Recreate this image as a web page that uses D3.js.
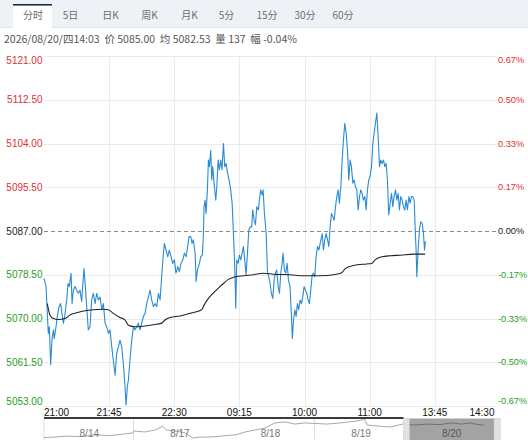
<!DOCTYPE html>
<html><head><meta charset="utf-8">
<script src="https://cdn.jsdelivr.net/npm/d3@7/dist/d3.min.js"></script>
<style>
html,body{margin:0;padding:0;background:#fff;}
svg{display:block;}
</style></head>
<body>
<svg id="c" width="528" height="440"></svg>
<script>
// ---- data ----
const tabs = ["分时","5日","日K","周K","月K","5分","15分","30分","60分"];
const infoText = "2026/08/20/四14:03  价 5085.00  均 5082.53  量 137  幅 -0.04%";
const priceTicks = [5121, 5112.5, 5104, 5095.5, 5087, 5078.5, 5070, 5061.5, 5053];
const pctTicks = ["0.67%","0.50%","0.33%","0.17%","0.00%","-0.17%","-0.33%","-0.50%","-0.67%"];
const prevClose = 5087;
const timeTicks = [0,45,90,135,180,225,270,315]; // session minutes
const timeLabels = ["21:00","21:45","22:30","09:15","10:00","11:00","13:45","14:30"];
// [session minute, price]
const pricePts = [
[0,5077.8],[1.4,5076.2],[2.3,5071.0],[3.0,5067.1],[3.7,5068.4],[4.6,5061.0],[5.5,5065.8],[6.5,5067.8],[7.1,5066.1],[8.3,5068.4],
[9.2,5070.4],[10.4,5072.3],[11.5,5072.9],[12.4,5071.0],[13.4,5069.1],[14.3,5070.4],[15.7,5073.6],[16.6,5076.8],[17.5,5076.2],[18.7,5078.8],
[19.4,5072.9],[20.3,5075.5],[21.4,5076.2],[22.6,5075.5],[23.7,5074.9],[24.9,5075.5],[26.0,5073.3],[26.7,5076.2],[27.6,5079.7],[28.6,5076.2],
[29.5,5072.3],[30.6,5067.8],[31.8,5068.4],[32.9,5073.6],[34.1,5074.9],[35.3,5072.9],[36.4,5074.9],[37.6,5073.6],[38.7,5074.2],[39.9,5071.7],
[41.0,5072.9],[42.2,5069.1],[43.3,5068.4],[44.5,5067.1],[45.6,5067.8],[46.8,5064.5],[47.9,5061.9],[49.1,5059.0],[50.2,5063.2],[51.4,5064.5],
[52.5,5065.8],[53.7,5064.5],[54.8,5061.3],[56.0,5056.8],[56.7,5053.2],[57.6,5056.8],[58.3,5058.0],[59.4,5061.9],[60.6,5065.8],[61.8,5068.4],
[62.9,5067.8],[64.1,5068.4],[65.2,5069.1],[66.4,5067.8],[67.5,5069.1],[68.7,5070.4],[69.8,5071.0],[71.0,5072.9],[72.1,5074.2],[73.3,5075.5],
[74.4,5073.6],[75.6,5072.3],[76.7,5072.9],[77.9,5072.3],[79.0,5074.9],[80.2,5073.6],[81.3,5078.1],[82.5,5082.7],[83.2,5084.6],[84.3,5083.3],
[85.5,5082.0],[86.6,5083.3],[87.8,5082.0],[88.9,5080.7],[90.1,5081.4],[91.2,5078.8],[92.4,5080.1],[93.5,5079.1],[94.7,5080.7],[95.9,5081.4],
[97.0,5082.7],[98.2,5082.0],[99.3,5084.0],[100.2,5085.9],[101.4,5085.9],[102.3,5084.6],[103.2,5085.3],[104.4,5082.7],[105.1,5077.2],[106.0,5079.4],
[107.4,5080.7],[108.3,5082.0],[109.4,5082.3],[110.1,5085.9],[110.6,5091.7],[111.3,5093.0],[112.0,5090.4],[112.9,5095.0],[113.6,5100.8],[114.3,5099.5],
[115.2,5102.7],[115.9,5096.9],[116.6,5099.5],[117.5,5096.3],[118.7,5093.0],[119.4,5095.6],[120.3,5100.8],[121.2,5098.9],[122.1,5100.8],[123.0,5098.9],
[124.0,5104.0],[124.9,5099.5],[125.8,5100.1],[126.7,5098.5],[127.9,5096.9],[129.0,5095.0],[130.0,5092.4],[130.9,5086.5],[131.8,5080.1],[132.5,5072.0],
[133.2,5081.4],[134.1,5080.7],[135.0,5082.3],[135.9,5081.4],[136.9,5082.7],[137.8,5084.0],[138.7,5081.4],[139.6,5078.5],[140.6,5082.7],[141.5,5087.2],
[142.4,5087.8],[143.5,5087.8],[144.2,5091.1],[145.2,5089.1],[146.1,5088.2],[147.0,5091.7],[148.2,5091.1],[148.8,5093.0],[149.7,5095.0],[150.7,5094.0],
[151.4,5095.0],[152.3,5090.4],[153.5,5086.5],[154.4,5079.1],[155.3,5078.1],[156.2,5076.8],[157.1,5074.9],[158.1,5073.9],[159.0,5077.5],[159.9,5078.8],
[160.8,5079.4],[161.8,5076.2],[162.7,5074.9],[163.6,5078.8],[164.5,5080.7],[165.2,5082.7],[166.1,5079.4],[167.0,5078.8],[168.0,5080.7],[168.9,5077.5],
[170.0,5076.2],[170.9,5071.0],[171.6,5066.1],[172.4,5069.7],[173.3,5071.7],[174.2,5070.4],[175.1,5072.9],[176.0,5071.7],[176.9,5073.6],[177.9,5072.9],
[178.8,5074.2],[179.7,5076.2],[180.6,5075.5],[181.6,5074.9],[182.5,5073.6],[183.4,5072.9],[184.3,5075.5],[185.3,5078.5],[186.2,5078.8],[187.1,5078.1],
[188.0,5082.0],[189.0,5084.0],[189.9,5083.3],[190.8,5084.6],[192.2,5086.5],[193.1,5083.3],[194.0,5085.3],[194.9,5086.5],[195.9,5085.3],[196.8,5084.0],
[197.7,5087.8],[198.6,5090.4],[199.5,5089.8],[200.5,5089.1],[201.4,5091.7],[202.3,5093.7],[203.2,5095.0],[204.1,5092.4],[205.1,5095.6],[206.0,5100.8],
[206.9,5104.7],[207.8,5107.9],[208.8,5106.0],[209.7,5102.7],[210.6,5096.9],[211.5,5100.8],[212.4,5099.5],[213.4,5096.3],[214.3,5096.9],[215.2,5095.6],
[216.1,5095.0],[217.1,5091.1],[218.0,5093.7],[218.9,5095.0],[219.8,5094.3],[220.7,5093.0],[221.7,5093.7],[222.6,5091.1],[223.5,5095.0],[224.4,5096.9],
[225.3,5097.6],[226.3,5099.5],[227.2,5104.0],[228.1,5106.0],[229.0,5107.9],[230.0,5109.9],[230.9,5105.3],[231.8,5099.5],[232.7,5100.8],[233.6,5100.1],
[234.6,5100.8],[235.5,5099.5],[236.4,5100.1],[237.3,5096.9],[238.2,5090.1],[239.2,5092.4],[240.1,5094.3],[241.0,5091.7],[241.9,5093.7],[242.9,5095.0],
[243.8,5093.0],[244.7,5094.3],[245.6,5091.1],[246.5,5093.7],[247.5,5093.0],[248.4,5091.7],[249.3,5091.1],[250.2,5093.0],[251.1,5091.1],[252.1,5093.7],
[253.0,5092.4],[253.9,5093.7],[254.8,5093.7],[255.8,5093.0],[256.4,5087.8],[257.1,5083.3],[257.6,5078.1],[258.5,5083.3],[259.4,5087.2],[260.3,5088.8],
[261.3,5088.5],[262.2,5086.5],[262.9,5083.3],[263.6,5085.0]
];
// [session minute, average price]
const avgPts = [
[2.3,5072.9],[4.1,5070.7],[6.5,5070.0],[9.9,5069.8],[14.5,5070.0],[18.0,5070.7],[22.6,5071.1],[28.3,5071.5],[34.1,5071.7],[41.0,5071.8],
[44.5,5071.7],[47.9,5071.0],[52.5,5070.2],[56.0,5069.7],[58.3,5068.7],[62.9,5068.4],[68.7,5068.5],[75.6,5068.8],[81.3,5069.1],[83.6,5069.7],
[87.1,5070.2],[94.0,5070.5],[100.9,5071.0],[109.0,5071.7],[110.6,5072.6],[113.6,5073.9],[117.1,5075.0],[120.5,5075.9],[124.0,5076.8],[127.4,5077.6],
[130.9,5078.0],[137.8,5078.3],[144.7,5078.5],[151.6,5078.8],[158.5,5078.6],[170.0,5078.5],[179.3,5078.3],[190.8,5078.3],[200.0,5078.5],[205.8,5078.9],
[208.1,5079.7],[213.8,5080.3],[223.0,5080.6],[226.5,5080.7],[228.8,5081.4],[233.4,5082.0],[239.2,5082.2],[246.2,5082.3],[255.4,5082.5],[263.4,5082.5]
];
// navigator: [day index (0..5), price]
const navDays = ["8/14","8/17","8/18","8/19","8/20"];
const navPts = [
[0,5001],[0.12,5004],[0.25,5010],[0.40,5007],[0.56,5017],[0.73,5013],[0.89,5023],[0.98,5029],[0.99,5041],[1.11,5035],
[1.23,5047],[1.31,5071],[1.35,5047],[1.45,5041],[1.56,5029],[1.64,4998],[1.72,5004],[1.83,5004],[1.96,5010],[2.11,5017],
[2.22,5035],[2.33,5047],[2.44,5059],[2.55,5090],[2.66,5096],[2.77,5083],[2.88,5090],[2.99,5087],[3.12,5083],[3.27,5090],
[3.41,5099],[3.54,5111],[3.57,5077],[3.69,5071],[3.82,5065],[3.96,5083],[4.09,5077],[4.24,5083],[4.37,5080],[4.50,5090],
[4.61,5083],[4.70,5090],[4.79,5080],[4.86,5077]
];
const navSelection = [4, 5];

// ---- drawing ----
const svg = d3.select("#c");
const W = 528;
const L = 44, R = 497, T = 56, B = 406;
const red = "#e03030", green = "#1e9e1e", dark = "#222";
const numFont = "'Liberation Sans', Arial, sans-serif";
const cjkFont = "'Noto Sans CJK SC', 'Liberation Sans', sans-serif";

// tab bar
svg.append("rect").attr("x",0).attr("y",0).attr("width",W).attr("height",27).attr("fill","#eef2f7");
svg.append("line").attr("x1",0).attr("x2",W).attr("y1",27.5).attr("y2",27.5).attr("stroke","#e2e6ee");
const tabCenters = [33, 70.5, 110.5, 149.5, 189.5, 226.5, 267, 305, 343];
svg.append("rect").attr("x",13).attr("y",4).attr("width",39).attr("height",24).attr("fill","#fff");
svg.append("rect").attr("x",13).attr("y",4).attr("width",39).attr("height",1.6).attr("fill","#1f2b4a");
svg.selectAll("text.tab").data(tabs).join("text").attr("class","tab")
  .attr("x",(d,i)=>tabCenters[i]).attr("y",16).attr("text-anchor","middle").attr("dominant-baseline","middle")
  .attr("font-family",cjkFont).attr("font-size",10).attr("fill","#6d6d6d").text(d=>d);

svg.append("text").attr("x",4).attr("y",40).attr("dominant-baseline","middle")
  .attr("font-family",cjkFont).attr("font-size",10.5).attr("fill","#555").attr("xml:space","preserve")
  .style("white-space","pre").text(infoText);

// scales
const x = d3.scaleLinear().domain([0,313]).range([L,R]);
const y = d3.scaleLinear().domain([5053,5121]).range([B,T]);

// grid
const g = svg.append("g");
g.selectAll("line.h").data(priceTicks.filter(v=>v!==prevClose)).join("line")
  .attr("x1",L).attr("x2",R).attr("y1",d=>Math.round(y(d))+0.5).attr("y2",d=>Math.round(y(d))+0.5)
  .attr("stroke","#ebebeb");
g.selectAll("line.v").data(timeTicks.slice(1,-1)).join("line")
  .attr("x1",d=>Math.round(x(d))+0.5).attr("x2",d=>Math.round(x(d))+0.5).attr("y1",T).attr("y2",B)
  .attr("stroke","#ebebeb");
g.append("line").attr("x1",L).attr("x2",R).attr("y1",Math.round(y(prevClose))+0.5).attr("y2",Math.round(y(prevClose))+0.5)
  .attr("stroke","#8a8a8a").attr("stroke-dasharray","4,3");

// left labels
const colorFor = v => v>prevClose?red:(v<prevClose?green:dark);
const off = i => i===0?4:(i===priceTicks.length-1?-5:0);
svg.selectAll("text.yl").data(priceTicks).join("text")
  .attr("x",42.5).attr("y",(d,i)=>y(d)+off(i)).attr("dy","0.35em").attr("text-anchor","end")
  .attr("font-family",numFont).attr("font-size",10).attr("fill",d=>colorFor(d)).text(d=>d.toFixed(2));
svg.selectAll("text.yr").data(pctTicks).join("text")
  .attr("x",498).attr("y",(d,i)=>y(priceTicks[i])+off(i)).attr("dy","0.35em").attr("text-anchor","start")
  .attr("font-family",numFont).attr("font-size",9.2).attr("fill",(d,i)=>colorFor(priceTicks[i])).text(d=>d);

// x labels
svg.selectAll("text.xl").data(timeTicks).join("text")
  .attr("x",(d,i)=> i===0 ? L : (i===timeTicks.length-1 ? 494.5 : x(d)))
  .attr("y",415.5)
  .attr("text-anchor",(d,i)=> i===0?"start":(i===timeTicks.length-1?"end":"middle"))
  .attr("font-family",numFont).attr("font-size",10).attr("fill","#111").text((d,i)=>timeLabels[i]);

// lines
const line = d3.line().x(d=>x(d[0])).y(d=>y(d[1]));
svg.append("path").datum(pricePts).attr("d",line).attr("fill","none")
  .attr("stroke","#2a8bd4").attr("stroke-width",1.1).attr("stroke-linejoin","round");
svg.append("path").datum(avgPts).attr("d",line.curve(d3.curveMonotoneX)).attr("fill","none")
  .attr("stroke","#222").attr("stroke-width",1.1);

// navigator
const nx = d3.scaleLinear().domain([0,5]).range([L,R]);
const ny = d3.scaleLinear().domain([4980,5120]).range([441,418]);
const NT = 418.5;
svg.append("line").attr("x1",L).attr("x2",L).attr("y1",NT).attr("y2",440).attr("stroke","#ddd");
svg.append("line").attr("x1",R+3).attr("x2",R+3).attr("y1",NT).attr("y2",440).attr("stroke","#ddd");
[1,3].forEach(d=>{
  svg.append("line").attr("x1",Math.round(nx(d))-1.5).attr("x2",Math.round(nx(d))-1.5).attr("y1",NT).attr("y2",440).attr("stroke","#e0e0e0");
});
const sx0 = nx(navSelection[0]), sx1 = nx(navSelection[1]);
svg.append("rect").attr("x",sx0).attr("y",NT).attr("width",sx1-sx0).attr("height",440-NT).attr("fill","#a3a3a3");
const nline = d3.line().x(d=>nx(d[0])).y(d=>ny(d[1]));
svg.append("defs").append("clipPath").attr("id","selclip").append("rect")
  .attr("x",sx0).attr("y",NT).attr("width",sx1-sx0).attr("height",440-NT);
svg.append("path").datum(navPts).attr("d",nline).attr("fill","none").attr("stroke","#a8a8a8").attr("stroke-width",1);
svg.append("path").datum(navPts).attr("d",nline).attr("fill","none").attr("stroke","#6f6f6f").attr("stroke-width",1)
  .attr("clip-path","url(#selclip)");
svg.append("rect").attr("x",sx0-3).attr("y",NT).attr("width",6).attr("height",440-NT).attr("fill","#e2e2e2").attr("stroke","#ccc").attr("stroke-width",0.5);
svg.append("rect").attr("x",sx1-3).attr("y",NT).attr("width",6).attr("height",440-NT).attr("fill","#e2e2e2").attr("stroke","#ccc").attr("stroke-width",0.5);
svg.append("line").attr("x1",L).attr("x2",sx0-3).attr("y1",418).attr("y2",418).attr("stroke","#3a3a3a").attr("stroke-width",2);
svg.selectAll("text.nd").data(navDays).join("text")
  .attr("x",(d,i)=>nx(i+0.5)).attr("y",433).attr("dy","0.35em").attr("text-anchor","middle")
  .attr("font-family",numFont).attr("font-size",10).attr("fill",(d,i)=>i===4?"#555":"#777").text(d=>d);
</script>
</body></html>
